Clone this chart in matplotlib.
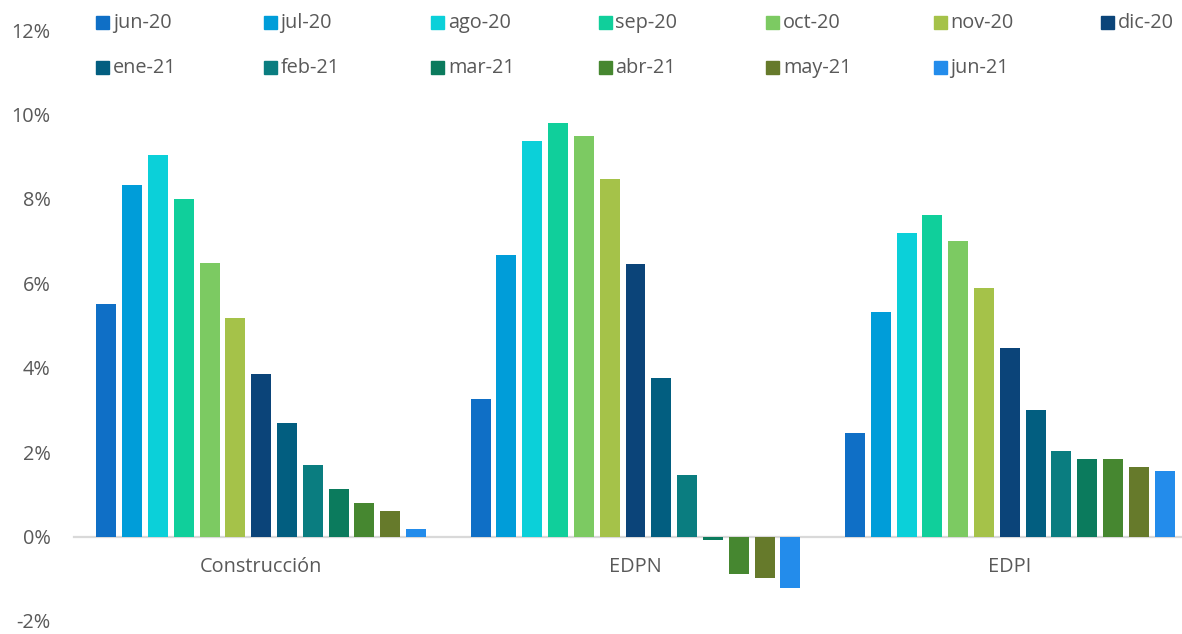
import matplotlib.pyplot as plt
import matplotlib.patches as mpatches
import numpy as np

# -----------------------------------
# Data
# -----------------------------------
categories = ["Construcción", "EDPN", "EDPI"]
months = ["jun-20", "jul-20", "ago-20", "sep-20", "oct-20", "nov-20", "dic-20",
          "ene-21", "feb-21", "mar-21", "abr-21", "may-21", "jun-21"]

construccion = [5.51, 8.33, 9.04, 8.00, 6.49, 5.18, 3.86, 2.68, 1.69, 1.13, 0.80, 0.61, 0.19]
edpn = [3.25, 6.68, 9.36, 9.79, 9.48, 8.47, 6.45, 3.76, 1.46, -0.07, -0.89, -0.98, -1.22]
edpi = [2.45, 5.32, 7.20, 7.62, 7.01, 5.88, 4.47, 3.01, 2.02, 1.84, 1.84, 1.65, 1.55]

colors = ["#0F6FC6", "#009DD9", "#0BD0D9", "#10CF9B", "#7CCA62", "#A5C249", "#0B4479",
          "#025E80", "#0A7D80", "#0B7B5D", "#468730", "#667A2B", "#238CEB"]

TEXT = "#595959"
plt.rcParams["font.family"] = ["Open Sans", "DejaVu Sans"]

# -----------------------------------
# Plot
# -----------------------------------
W, H = 1182, 634
fig = plt.figure(figsize=(W / 100, H / 100), dpi=100)
ax = fig.add_axes([74 / W, 13 / H, 1123 / W, 591 / H])

values = np.array([construccion, edpn, edpi])  # shape (3, 13)
x = np.arange(len(categories))
pitch = 0.069
width = 0.0534
offsets = (np.arange(len(months)) - (len(months) - 1) / 2) * pitch

for i, m in enumerate(months):
    ax.bar(x + offsets[i], values[:, i], width=width, color=colors[i], label=m, zorder=2)

ax.set_xlim(-0.5, 2.5)
ax.set_ylim(-2, 12)
ax.set_yticks(np.arange(-2, 13, 2))
ax.set_yticklabels([f"{v}%" for v in range(-2, 13, 2)])
ax.set_xticks(x)
ax.set_xticklabels(categories)

for s in ["top", "right", "left"]:
    ax.spines[s].set_visible(False)
ax.spines["bottom"].set_position(("data", 0))
ax.spines["bottom"].set_color("#D9D9D9")
ax.spines["bottom"].set_linewidth(1.6)
ax.spines["bottom"].set_zorder(1)

ax.tick_params(axis="both", length=0, colors=TEXT, labelsize=14.3)
ax.tick_params(axis="y", pad=17)
ax.tick_params(axis="x", pad=15)

# -----------------------------------
# Legend (fixed Excel-like grid)
# -----------------------------------
for i, m in enumerate(months):
    col, row = i % 7, i // 7
    px = 96 + col * 167.5
    py = 22 + row * 45
    fig.add_artist(mpatches.Rectangle((px / W, 1 - (py + 6.5) / H), 13 / W, 13 / H,
                                      transform=fig.transFigure, color=colors[i]))
    fig.text((px + 17) / W, 1 - (py + 1) / H, m, color=TEXT, fontsize=14.3,
             va="center", ha="left")

fig.savefig("out.png", dpi=100)
